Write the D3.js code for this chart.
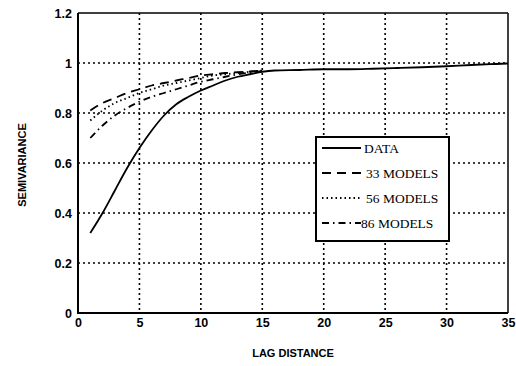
<!DOCTYPE html>
<html><head><meta charset="utf-8">
<script src="https://cdn.jsdelivr.net/npm/d3@7"></script>
<style>body{margin:0;background:#fff}svg{display:block}</style>
</head><body>
<svg id="c" width="516" height="366"></svg>
<script>
const xTicks = [0,5,10,15,20,25,30,35];
const yTicks = [0,0.2,0.4,0.6,0.8,1,1.2];
const yTickLabels = ["0","0.2","0.4","0.6","0.8","1","1.2"];
const dataX = [1,2,3,4,5,6,7,8,9,10,11,12,13,14,15,16,18,20,22,24,26,28,30,32,34,35];
const dataY = [0.32,0.40,0.49,0.58,0.66,0.73,0.79,0.835,0.865,0.89,0.91,0.93,0.945,0.955,0.965,0.97,0.972,0.975,0.975,0.977,0.98,0.983,0.987,0.992,0.996,0.998];
const modelX = [1,2,3,4,5,6,7,8,9,10,11,12,13,14,15];
const m33 = [0.81,0.84,0.86,0.88,0.895,0.91,0.92,0.93,0.94,0.95,0.955,0.96,0.963,0.966,0.97];
const m56 = [0.77,0.81,0.84,0.86,0.88,0.895,0.91,0.92,0.93,0.94,0.95,0.955,0.96,0.965,0.97];
const m86 = [0.70,0.75,0.79,0.82,0.845,0.865,0.88,0.895,0.91,0.925,0.935,0.945,0.955,0.962,0.968];
const seriesNames = ["DATA","33 MODELS","56 MODELS","86 MODELS"];
const dashes = [null,"9,6","1.5,3","7,4,1.5,4"];

const svg = d3.select("#c");
const L=78,R=508,T=13,B=313;
const x = d3.scaleLinear().domain([0,35]).range([L,R]);
const y = d3.scaleLinear().domain([0,1.2]).range([B,T]);

// grid
const g = svg.append("g");
g.selectAll(".gx").data(xTicks.slice(1,-1)).enter().append("line")
 .attr("x1",d=>x(d)).attr("x2",d=>x(d)).attr("y1",T).attr("y2",B)
 .attr("stroke","#000").attr("stroke-width",1.6).attr("stroke-dasharray","2,3");
g.selectAll(".gy").data(yTicks.slice(1,-1)).enter().append("line")
 .attr("y1",d=>y(d)).attr("y2",d=>y(d)).attr("x1",L).attr("x2",R)
 .attr("stroke","#000").attr("stroke-width",1.6).attr("stroke-dasharray","2,3");

// frame
svg.append("line").attr("x1",L).attr("x2",R).attr("y1",T).attr("y2",T).attr("stroke","#000").attr("stroke-width",1.5);
svg.append("line").attr("x1",R).attr("x2",R).attr("y1",T).attr("y2",B).attr("stroke","#000").attr("stroke-width",1.5);
svg.append("line").attr("x1",L).attr("x2",L).attr("y1",T).attr("y2",B+1).attr("stroke","#000").attr("stroke-width",2);
svg.append("line").attr("x1",L-1).attr("x2",R).attr("y1",B).attr("y2",B).attr("stroke","#000").attr("stroke-width",2);

// axes labels
const xa = svg.append("g").attr("transform",`translate(0,${B})`)
 .call(d3.axisBottom(x).tickValues(xTicks).tickSize(0).tickPadding(5).tickFormat(d3.format("d")));
xa.select(".domain").remove();
xa.selectAll("text").attr("font-family","Liberation Sans, Arial, sans-serif").attr("font-weight","bold").attr("font-size","12.5px").attr("fill","#000");
const ya = svg.append("g").attr("transform",`translate(${L},0)`)
 .call(d3.axisLeft(y).tickValues(yTicks).tickSize(0).tickPadding(6).tickFormat((d,i)=>yTickLabels[i]));
ya.select(".domain").remove();
ya.selectAll("text").attr("font-family","Liberation Sans, Arial, sans-serif").attr("font-weight","bold").attr("font-size","12.5px").attr("fill","#000");

svg.append("text").attr("x",293).attr("y",357).attr("text-anchor","middle")
 .attr("font-family","Liberation Sans, Arial, sans-serif").attr("font-weight","bold").attr("font-size","11px").text("LAG DISTANCE");
svg.append("text").attr("transform","translate(26,165) rotate(-90)").attr("text-anchor","middle")
 .attr("font-family","Liberation Sans, Arial, sans-serif").attr("font-weight","bold").attr("font-size","11px").text("SEMIVARIANCE");

// lines
const line = d3.line().x(d=>x(d[0])).y(d=>y(d[1])).curve(d3.curveMonotoneX);
const series = [
 d3.zip(dataX,dataY), d3.zip(modelX,m33), d3.zip(modelX,m56), d3.zip(modelX,m86)
];
series.forEach((s,i)=>{
 svg.append("path").attr("d",line(s)).attr("fill","none").attr("stroke","#000")
  .attr("stroke-width",1.8).attr("stroke-dasharray",dashes[i]);
});

// legend
const lg = svg.append("g");
lg.append("rect").attr("x",316).attr("y",137).attr("width",133).attr("height",104)
 .attr("fill","#fff").attr("stroke","#000").attr("stroke-width",2);
seriesNames.forEach((n,i)=>{
 const yy = 148 + i*25;
 lg.append("line").attr("x1",322).attr("x2",361).attr("y1",yy).attr("y2",yy)
  .attr("stroke","#000").attr("stroke-width",1.8).attr("stroke-dasharray",dashes[i]);
 lg.append("text").attr("x",i===0?364:(i===3?361:366)).attr("y",yy+4.5)
  .attr("font-family","Liberation Serif, Times New Roman, serif").attr("font-size","13.5px").text(n);
});
</script>
</body></html>
